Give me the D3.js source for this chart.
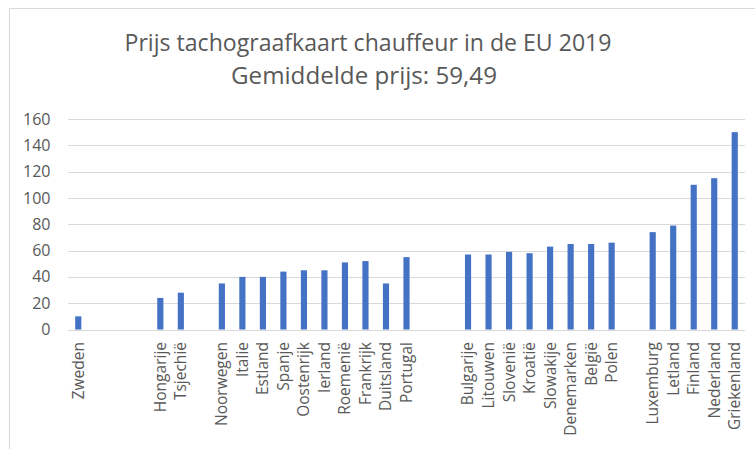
<!DOCTYPE html>
<html>
<head>
<meta charset="utf-8">
<script src="https://cdn.jsdelivr.net/npm/d3@7"></script>
<style>
  body { margin: 0; background: #fff; }
  text { font-family: "Open Sans", sans-serif; fill: #595959; }
  .grid line { stroke: #d9d9d9; stroke-width: 1px; }
</style>
</head>
<body>
<svg id="chart" width="755" height="449"></svg>
<script>
// empty strings are the blank slots between country groups
const countries = [
  "Zweden", "", "", "",
  "Hongarije", "Tsjechië", "",
  "Noorwegen", "Italie", "Estland", "Spanje", "Oostenrijk", "Ierland", "Roemenië", "Frankrijk", "Duitsland", "Portugal", "", "",
  "Bulgarije", "Litouwen", "Slovenië", "Kroatië", "Slowakije", "Denemarken", "België", "Polen", "",
  "Luxemburg", "Letland", "Finland", "Nederland", "Griekenland"
];
const prices = [
  10, null, null, null,
  24, 28, null,
  35, 40, 40, 44, 45, 45, 51, 52, 35, 55, null, null,
  57, 57, 59, 58, 63, 65, 65, 66, null,
  74, 79, 110, 115, 150
];
const yTicks = [0, 20, 40, 60, 80, 100, 120, 140, 160];
const titleLines = ["Prijs tachograafkaart chauffeur in de EU 2019", "Gemiddelde prijs: 59,49"];

const svg = d3.select("#chart");
const plotLeft = 68, plotRight = 745, plotTop = 119, plotBottom = 329.5;

// chart frame (only left/top edges show in the crop)
svg.append("rect")
  .attr("x", 9.5).attr("y", 8.5)
  .attr("width", 800).attr("height", 500)
  .attr("fill", "none")
  .attr("stroke", "#d9d9d9");

svg.append("text")
  .attr("x", 368).attr("y", 50.5)
  .attr("text-anchor", "middle")
  .attr("font-size", 24.5)
  .attr("textLength", 487)
  .attr("lengthAdjust", "spacingAndGlyphs")
  .text(titleLines[0]);
svg.append("text")
  .attr("x", 364).attr("y", 84)
  .attr("text-anchor", "middle")
  .attr("font-size", 24.5)
  .attr("textLength", 266)
  .attr("lengthAdjust", "spacingAndGlyphs")
  .text(titleLines[1]);

const x = d3.scaleBand()
  .domain(d3.range(countries.length))
  .range([plotLeft, plotRight])
  .paddingInner(0.7)
  .paddingOuter(0.35);

const y = d3.scaleLinear()
  .domain([0, 160])
  .range([plotBottom, plotTop]);

svg.append("g")
  .attr("class", "grid")
  .selectAll("line")
  .data(yTicks)
  .join("line")
    .attr("x1", plotLeft).attr("x2", plotRight)
    .attr("y1", d => Math.round(y(d)) + 0.5)
    .attr("y2", d => Math.round(y(d)) + 0.5);

svg.append("g")
  .selectAll("text")
  .data(yTicks)
  .join("text")
    .attr("x", 50.5)
    .attr("y", d => y(d))
    .attr("dy", "0.35em")
    .attr("text-anchor", "end")
    .attr("font-size", 16)
    .text(d => d);

svg.append("g")
  .selectAll("rect")
  .data(prices.map((v, i) => ({i, v})).filter(d => d.v != null))
  .join("rect")
    .attr("x", d => x(d.i))
    .attr("width", x.bandwidth())
    .attr("y", d => y(d.v))
    .attr("height", d => y(0) - y(d.v))
    .attr("fill", "#4472c4");

svg.append("g")
  .selectAll("text")
  .data(countries.map((c, i) => ({c, i})).filter(d => d.c))
  .join("text")
    .attr("transform", d => `translate(${x(d.i) + x.bandwidth() / 2},342) rotate(-90)`)
    .attr("dy", "0.35em")
    .attr("text-anchor", "end")
    .attr("font-size", 15.5)
    .text(d => d.c);
</script>
</body>
</html>
